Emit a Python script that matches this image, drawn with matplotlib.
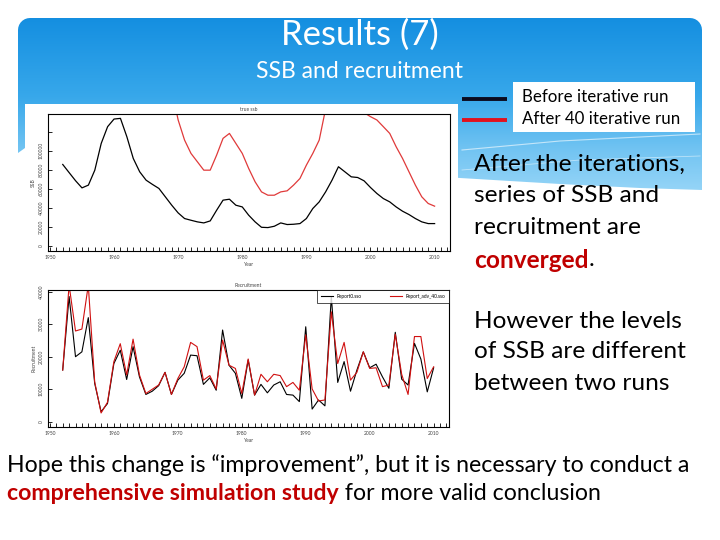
import matplotlib
matplotlib.use("Agg")
import matplotlib.pyplot as plt
import numpy as np
from matplotlib.patches import Polygon, Rectangle
from matplotlib.ticker import FixedLocator, MultipleLocator

plt.rcParams["font.family"] = ["Lato", "DejaVu Sans"]

# ---- data ---------------------------------------------------------------------
years = list(range(1952, 2011))

ssb_before = [85600, 77000, 68500, 61000, 63900, 79600, 107700, 125300, 133300, 134000,
              114700, 91900, 77900, 69100, 64600, 60400, 51600, 42800, 34700, 28800,
              27000, 25300, 24200, 26300, 37500, 48100, 49100, 42800, 41000, 32300,
              25300, 19600, 19300, 20700, 24200, 22500, 22800, 23500, 28800, 39300,
              46300, 56800, 69100, 83200, 77900, 72600, 71900, 68400, 61400, 55100,
              49800, 46300, 41000, 36500, 33000, 28800, 25300, 23500, 23500]
# values before 1970 and 1993-1999 run off the top of the panel (estimates)
ssb_after = [260000, 240000, 220000, 205000, 215000, 255000, 330000, 375000, 395000, 395000,
             345000, 285000, 245000, 220000, 205000, 192000, 176000, 164000, 132300, 111200,
             97200, 88400, 79600, 79600, 95400, 113000, 118200, 107700, 97200, 81400,
             67400, 56800, 53300, 53300, 56800, 57900, 63900, 70900, 84900, 97200,
             111200, 144000, 172000, 200000, 190000, 175000, 165000, 140000, 135800, 132300,
             125300, 118200, 104200, 91900, 77900, 63900, 51600, 44600, 41800]

rec_before = [15900, 38500, 20000, 21500, 32000, 11800, 3100, 5600, 17900, 22000,
              13000, 23100, 13800, 8400, 9400, 11100, 15200, 8400, 12800, 14900,
              20500, 20300, 11500, 13500, 9700, 28200, 17400, 14900, 7200, 19000,
              8200, 11500, 8900, 11300, 12300, 8400, 8200, 6200, 29200, 3900,
              6700, 4900, 38500, 12100, 18500, 9400, 15900, 21500, 16600, 17700,
              13800, 10300, 27500, 13100, 11300, 24100, 19300, 9200, 16600]
rec_after = [15900, 42000, 27900, 28500, 42000, 12300, 2700, 6000, 18500, 24000,
             14400, 25400, 14400, 8700, 10000, 11300, 15200, 8400, 13300, 16900,
             24400, 23100, 12800, 14200, 10100, 25100, 17400, 16400, 8700, 19300,
             8200, 14600, 12300, 14600, 14200, 10800, 12100, 9700, 26700, 10100,
             6400, 6700, 33800, 17900, 24400, 12800, 15200, 21500, 16400, 16600,
             10800, 11300, 26900, 14600, 8400, 26200, 26200, 13300, 16900]

decades = [1950, 1960, 1970, 1980, 1990, 2000, 2010]
ssb_ticks = [0, 20000, 40000, 60000, 80000, 100000, 120000]
ssb_ticklabels = ["0", "20000", "40000", "60000", "80000", "100000", ""]
rec_ticks = [0, 10000, 20000, 30000, 40000]

RED_TXT = "#c00000"

W, H = 720, 540
fig = plt.figure(figsize=(W / 100, H / 100), dpi=100)
fig.patch.set_facecolor("white")

# ---- slide background in pixel coordinates -------------------------------------
bg = fig.add_axes([0, 0, 1, 1])
bg.set_xlim(0, W)
bg.set_ylim(H, 0)
bg.axis("off")

# header shape: rounded top, slanted lower edge
r = 12
a = np.linspace(np.pi, 1.5 * np.pi, 8)
tl = np.c_[30 + r * np.cos(a), 30 + r * np.sin(a)]
a = np.linspace(1.5 * np.pi, 2 * np.pi, 8)
tr = np.c_[690 + r * np.cos(a), 30 + r * np.sin(a)]
verts = np.vstack([tl, tr, [[702, 190], [640, 188], [560, 184], [460, 178], [25, 148], [18, 153]]])
hdr = Polygon(verts, closed=True, facecolor="none", edgecolor="none")
bg.add_patch(hdr)
grad = np.array([[0.08, 0.56, 0.88], [0.22, 0.66, 0.92], [0.45, 0.77, 0.95], [0.60, 0.84, 0.97]])
t = np.linspace(0, 1, 200)
cols = np.stack([np.interp(t, [0, 0.45, 0.75, 1], grad[:, k]) for k in range(3)], axis=1)
im = bg.imshow(cols[:, None, :], extent=(18, 702, 195, 18), origin="upper", aspect="auto",
               interpolation="bilinear", zorder=1)
im.set_clip_path(hdr)
# light streaks in the lower right of the header
bg.plot([462, 560, 700], [150, 141, 134], color="white", lw=0.8, alpha=0.6, zorder=2)
bg.plot([462, 580, 700], [170, 160, 156], color="white", lw=0.6, alpha=0.5, zorder=2)

bg.text(360, 35, "Results (7)", color="white", fontsize=25, ha="center", va="center", zorder=5)
bg.text(360, 71, "SSB and recruitment", color="white", fontsize=16.5, ha="center", va="center",
        zorder=5)

# white boxes behind the two R plots
bg.add_patch(Rectangle((25, 104), 433, 170, facecolor="white", edgecolor="none", zorder=3))
bg.add_patch(Rectangle((25, 276), 433, 172, facecolor="white", edgecolor="none", zorder=3))

# legend box
bg.add_patch(Rectangle((513, 82), 182, 50, facecolor="white", edgecolor="none", zorder=3))
bg.plot([462, 507], [99, 99], color="#0b0b1e", lw=2.8, solid_capstyle="butt", zorder=4)
bg.plot([462, 507], [120, 120], color="#e2111d", lw=2.8, solid_capstyle="butt", zorder=4)
bg.text(522, 97, "Before iterative run", fontsize=12.2, va="center", zorder=5)
bg.text(522, 119, "After 40 iterative run", fontsize=12.2, va="center", zorder=5)

# right-hand notes
fs_body = 17.6
for y, s in zip([164, 196, 228], ["After the iterations,", "series of SSB and", "recruitment are"]):
    bg.text(474, y, s, fontsize=fs_body, va="center", zorder=5)
t1 = bg.text(474, 260, "converged", fontsize=fs_body, va="center", color=RED_TXT,
             fontweight="bold", zorder=5)
for y, s in zip([321, 352, 384], ["However the levels", "of SSB are different", "between two runs"]):
    bg.text(474, y, s, fontsize=fs_body, va="center", zorder=5)

# bottom conclusion
fs_bot = 16.7
bg.text(7, 465, "Hope this change is \u201cimprovement\u201d, but it is necessary to conduct a",
        fontsize=fs_bot, va="center", zorder=5)
t2 = bg.text(7, 493, "comprehensive simulation study", fontsize=fs_bot, va="center",
             color=RED_TXT, fontweight="bold", zorder=5)

fig.canvas.draw()
inv = bg.transData.inverted()
x1 = inv.transform(t1.get_window_extent().get_points())[1, 0]
bg.text(x1, 260, ".", fontsize=fs_body, va="center", zorder=5)
x2 = inv.transform(t2.get_window_extent().get_points())[1, 0]
bg.text(x2, 493, " for more valid conclusion", fontsize=fs_bot, va="center", zorder=5)


def panel(box, title, ylabel):
    l, tp, rt, bt = box
    ax = fig.add_axes([l / W, 1 - bt / H, (rt - l) / W, (bt - tp) / H])
    ax.set_facecolor("white")
    for s in ax.spines.values():
        s.set_linewidth(0.8)
    ax.set_xlim(1949.7, 2012.4)
    ax.xaxis.set_major_locator(FixedLocator(decades))
    ax.xaxis.set_minor_locator(MultipleLocator(1))
    ax.tick_params(which="both", direction="in", length=3, width=0.6, labelsize=3.6,
                   labelcolor="#444", pad=3)
    ax.tick_params(axis="y", labelrotation=90)
    ax.set_title(title, fontsize=3.6, color="#444", pad=2)
    ax.set_xlabel("Year", fontsize=3.6, color="#444", labelpad=1)
    ax.set_ylabel(ylabel, fontsize=3.6, color="#444", labelpad=2)
    return ax


# ---- top plot: SSB ---------------------------------------------------------------
ax = panel((48, 114, 450, 251), "true ssb", "SSB")
ax.plot(years, ssb_before, color="black", lw=0.9)
ax.plot(years, ssb_after, color="#e03a3a", lw=0.9)
ax.set_ylim(-5300, 138600)
ax.set_yticks(ssb_ticks)
ax.set_yticklabels(ssb_ticklabels, rotation=90, va="center")

# ---- bottom plot: recruitment ----------------------------------------------------
ax = panel((48, 290, 449, 427), "Recruitment", "Recruitment")
ax.plot(years, rec_before, color="black", lw=0.8, label="Report0.sso")
ax.plot(years, rec_after, color="#d01010", lw=0.8, label="Report_adv_40.sso")
ax.set_ylim(-1600, 40500)
ax.set_yticks(rec_ticks)
ax.set_yticklabels([str(v) for v in rec_ticks], rotation=90, va="center")
leg = ax.legend(loc="upper right", ncol=2, fontsize=3.4, frameon=True, fancybox=False,
                edgecolor="black", borderaxespad=0, handlelength=2.5, columnspacing=6,
                borderpad=0.8)
leg.get_frame().set_linewidth(0.6)

fig.savefig("out.png", dpi=100)
